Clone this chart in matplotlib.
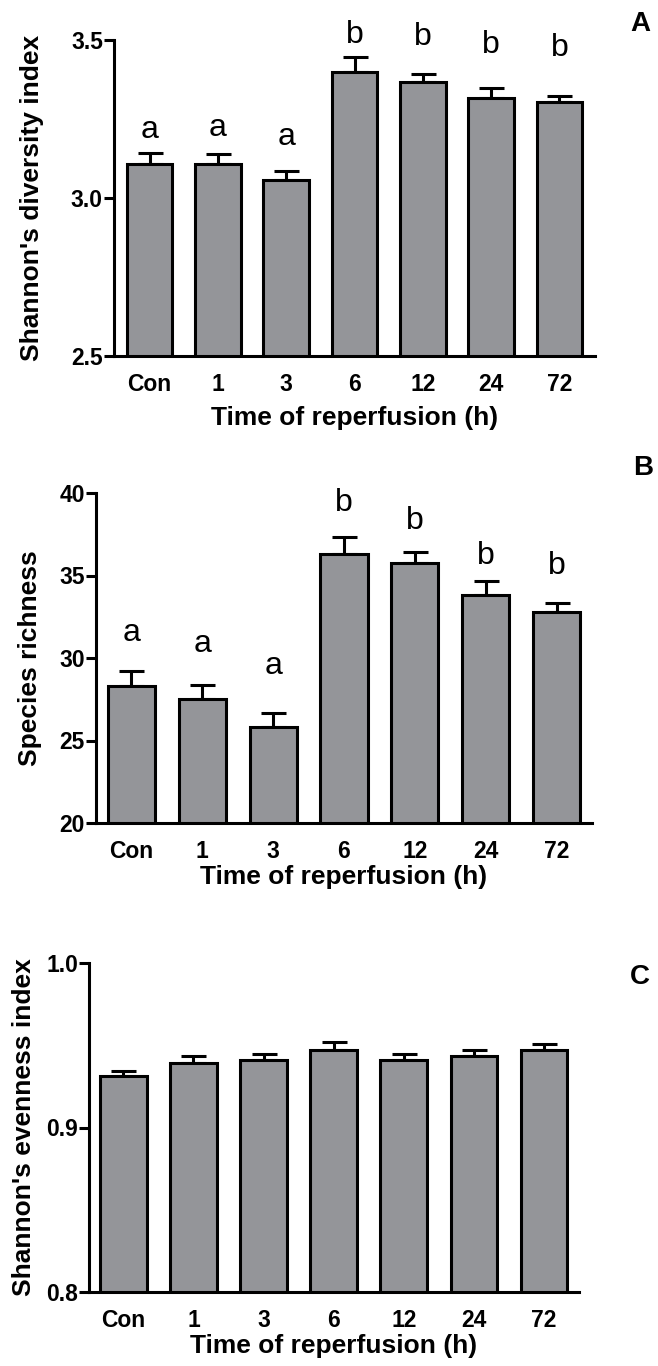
import matplotlib
matplotlib.use("Agg")
import matplotlib.pyplot as plt

# Data
times = ["Con", "1", "3", "6", "12", "24", "72"]

shannon = [3.109, 3.107, 3.056, 3.400, 3.367, 3.318, 3.304]
shannon_se = [0.032, 0.033, 0.029, 0.047, 0.026, 0.029, 0.020]
shannon_letters = ["a", "a", "a", "b", "b", "b", "b"]
shannon_letter_y = [3.19, 3.195, 3.169, 3.49, 3.484, 3.458, 3.45]

richness = [28.30, 27.50, 25.83, 36.28, 35.78, 33.81, 32.79]
richness_se = [0.89, 0.84, 0.84, 1.05, 0.64, 0.86, 0.54]
richness_letters = ["a", "a", "a", "b", "b", "b", "b"]
richness_letter_y = [31.06, 30.35, 29.05, 38.9, 37.79, 35.72, 35.12]

evenness = [0.9312, 0.9393, 0.9409, 0.9470, 0.9413, 0.9432, 0.9470]
evenness_se = [0.0032, 0.0043, 0.0035, 0.0047, 0.0031, 0.0038, 0.0035]

plt.rcParams["font.family"] = ["Liberation Sans", "DejaVu Sans"]

BAR_COLOR = "#949599"
LW = 2.2

fig = plt.figure(figsize=(6.58, 13.66), dpi=100)
W, H = 658.0, 1366.0


def make_axes(left, right, top, bottom):
    # pixel box -> figure fraction
    return fig.add_axes([left / W, 1 - bottom / H, (right - left) / W, (bottom - top) / H])


def panel(ax, values, errs, ylim, yticks, fmt, ylabel, xlim, ylab_x, xlab_y,
          letters=None, letter_y=None):
    x = list(range(len(times)))
    ax.bar(x, values, width=0.665, color=BAR_COLOR, edgecolor="black",
           linewidth=LW, zorder=2)
    ax.errorbar(x, values, yerr=[[0] * len(errs), errs], fmt="none",
                ecolor="black", elinewidth=LW, capsize=9, capthick=LW, zorder=1)
    if letters:
        for xi, lt, ly in zip(x, letters, letter_y):
            ax.text(xi, ly, lt, ha="center", va="baseline", fontsize=23,
                    clip_on=False)
    ax.set_xlim(*xlim)
    ax.set_ylim(*ylim)
    ax.set_yticks(yticks)
    ax.set_yticklabels([fmt.format(v) for v in yticks], fontsize=16.5,
                       fontweight="bold")
    ax.set_xticks(x)
    ax.set_xticklabels(times, fontsize=16.5, fontweight="bold")
    ax.tick_params(axis="x", length=0, pad=12)
    ax.tick_params(axis="y", length=7, width=LW, pad=1)
    for s in ["top", "right"]:
        ax.spines[s].set_visible(False)
    for s in ["left", "bottom"]:
        ax.spines[s].set_linewidth(LW)
    ax.set_ylabel(ylabel, fontsize=19, fontweight="bold")
    ax.set_xlabel("Time of reperfusion (h)", fontsize=19, fontweight="bold")
    ax.yaxis.set_label_coords(ylab_x, 0.5)
    ax.xaxis.set_label_coords(0.5, xlab_y)


axA = make_axes(114, 595, 40, 356)
panel(axA, shannon, shannon_se, (2.5, 3.5), [2.5, 3.0, 3.5], "{:.1f}",
      "Shannon's diversity index", (-0.52, 6.52), -0.1455, -0.158,
      shannon_letters, shannon_letter_y)

axB = make_axes(96, 592, 493, 823)
panel(axB, richness, richness_se, (20, 40), [20, 25, 30, 35, 40], "{:.0f}",
      "Species richness", (-0.5, 6.5), -0.109, -0.128,
      richness_letters, richness_letter_y)

axC = make_axes(89, 579, 963, 1292)
panel(axC, evenness, evenness_se, (0.8, 1.0), [0.8, 0.9, 1.0], "{:.1f}",
      "Shannon's evenness index", (-0.49, 6.5), -0.108, -0.128)

for lab, px, py in [("A", 640, 24), ("B", 643, 468), ("C", 640, 977)]:
    fig.text(px / W, 1 - py / H, lab, ha="center", va="center", fontsize=20,
             fontweight="bold")

fig.savefig("out.png", dpi=100)
